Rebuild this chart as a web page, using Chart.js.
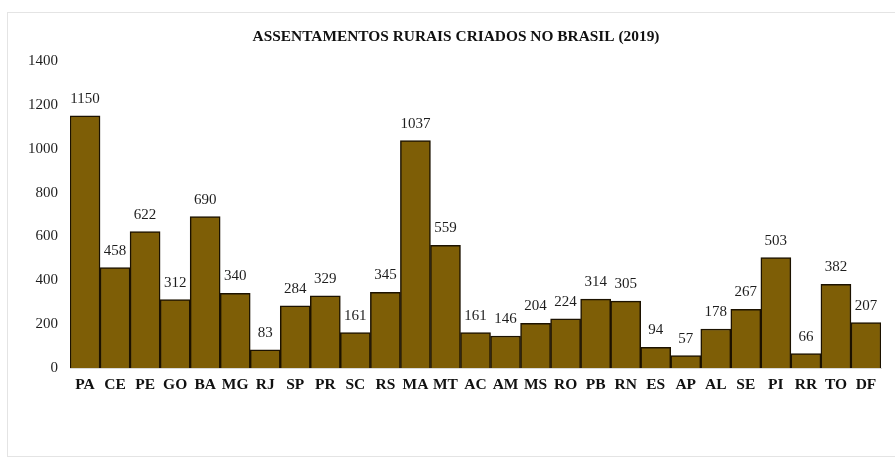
<!DOCTYPE html>
<html>
<head>
<meta charset="utf-8">
<script src="https://cdn.jsdelivr.net/npm/chart.js@4/dist/chart.umd.min.js"></script>
<style>
  html, body { margin: 0; padding: 0; background: #ffffff; }
  #wrap { position: relative; width: 895px; height: 462px; overflow: hidden; }
  #frame { position: absolute; left: 7px; top: 12px; width: 900px; height: 445px; border: 1px solid #e4e4e4; box-sizing: border-box; }
  canvas { position: absolute; left: 0; top: 0; }
</style>
</head>
<body>
<div id="wrap">
  <div id="frame"></div>
  <canvas id="c" width="895" height="462"></canvas>
</div>
<script>
const estados = ["PA","CE","PE","GO","BA","MG","RJ","SP","PR","SC","RS","MA","MT","AC","AM","MS","RO","PB","RN","ES","AP","AL","SE","PI","RR","TO","DF"];
const assentamentos = [1150,458,622,312,690,340,83,284,329,161,345,1037,559,161,146,204,224,314,305,94,57,178,267,503,66,382,207];
const yTicks = [0,200,400,600,800,1000,1200,1400];
const titulo = "ASSENTAMENTOS RURAIS CRIADOS NO BRASIL (2019)";

const serif = "'Liberation Serif', 'Times New Roman', serif";

const valueLabels = {
  id: 'valueLabels',
  afterDatasetsDraw(chart) {
    const ctx = chart.ctx;
    const meta = chart.getDatasetMeta(0);
    ctx.save();
    ctx.font = "15px " + serif;
    ctx.fillStyle = "#1e1e1e";
    ctx.textAlign = "center";
    ctx.textBaseline = "alphabetic";
    meta.data.forEach((bar, i) => {
      ctx.fillText(String(assentamentos[i]), bar.x, bar.y - 13);
    });
    ctx.restore();
  }
};

const titlePlugin = {
  id: 'customTitle',
  afterDraw(chart) {
    const ctx = chart.ctx;
    ctx.save();
    ctx.font = "bold 15.4px " + serif;
    ctx.fillStyle = "#111111";
    ctx.textAlign = "center";
    ctx.textBaseline = "middle";
    ctx.fillText(titulo, 456, 37);
    ctx.restore();
  }
};

new Chart(document.getElementById('c'), {
  type: 'bar',
  data: {
    labels: estados,
    datasets: [{
      data: assentamentos,
      backgroundColor: '#7e5e06',
      borderColor: '#1c1200',
      borderWidth: 1.5,
      categoryPercentage: 1.0,
      barPercentage: 1.0
    }]
  },
  options: {
    responsive: false,
    animation: false,
    devicePixelRatio: 1,
    layout: { padding: { left: 0, right: 14, top: 61, bottom: 54 } },
    plugins: {
      legend: { display: false },
      tooltip: { enabled: false },
      title: { display: false }
    },
    scales: {
      x: {
        grid: { display: false, drawTicks: false },
        border: { display: true, color: '#d9d9d9', width: 1 },
        ticks: {
          color: '#111111',
          font: { family: serif, size: 15.5, weight: 'bold' },
          padding: 8,
          maxRotation: 0,
          autoSkip: false
        },
        afterFit(scale) { scale.height = 40; }
      },
      y: {
        min: 0,
        max: 1400,
        grid: { display: false, drawTicks: false },
        border: { display: false },
        afterBuildTicks(scale) { scale.ticks = yTicks.map(v => ({ value: v })); },
        ticks: {
          color: '#1e1e1e',
          font: { family: serif, size: 15 },
          padding: 12,
          callback: (v) => String(v)
        },
        afterFit(scale) { scale.width = 70; }
      }
    }
  },
  plugins: [valueLabels, titlePlugin]
});
</script>
</body>
</html>
